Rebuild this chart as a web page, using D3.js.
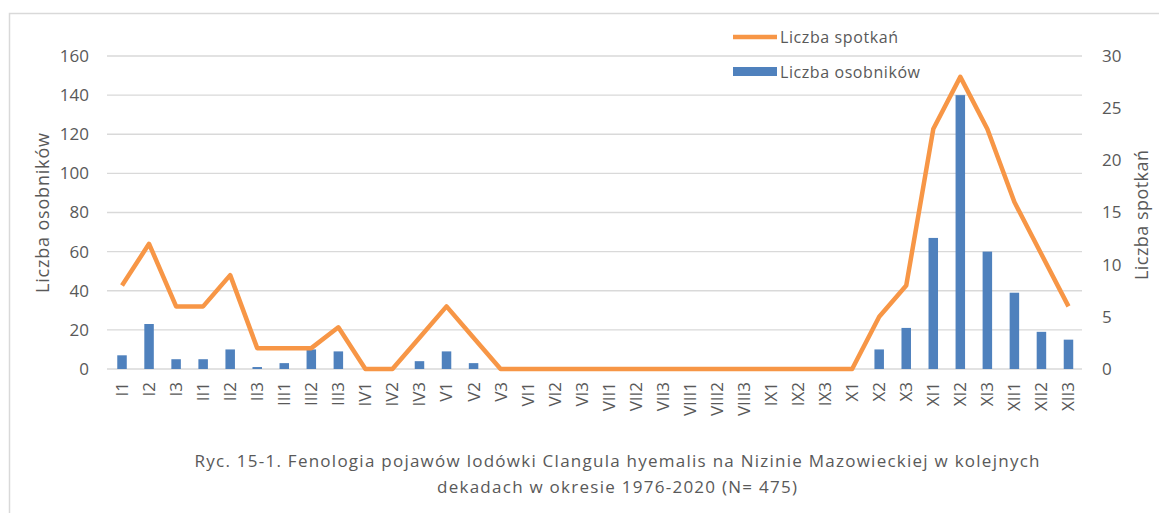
<!DOCTYPE html>
<html>
<head>
<meta charset="utf-8">
<script src="https://cdn.jsdelivr.net/npm/d3@7"></script>
<style>
body { margin: 0; background: #fff; }
svg text { font-family: "Open Sans", sans-serif; fill: #595959; }
</style>
</head>
<body>
<div id="chart"></div>
<script>
var w = 1159;
var h = 513;

// dekady miesiecy
var categories = ["I1","I2","I3","II1","II2","II3","III1","III2","III3","IV1","IV2","IV3",
                  "V1","V2","V3","VI1","VI2","VI3","VII1","VII2","VII3","VIII1","VIII2","VIII3",
                  "IX1","IX2","IX3","X1","X2","X3","XI1","XI2","XI3","XII1","XII2","XII3"];
var osobnicy = [7,23,5,5,10,1,3,10,9,0,0,4,9,3,0,0,0,0,0,0,0,0,0,0,0,0,0,0,10,21,67,140,60,39,19,15];
var spotkania = [8,12,6,6,9,2,2,2,4,0,0,3,6,3,0,0,0,0,0,0,0,0,0,0,0,0,0,0,5,8,23,28,23,16,11,6];
var leftTicks = [0,20,40,60,80,100,120,140,160];
var rightTicks = [0,5,10,15,20,25,30];

var svg = d3.select("#chart")
            .append("svg")
            .attr("width", w)
            .attr("height", h);

// ramka wykresu
svg.append("rect")
   .attr("x", 9.5).attr("y", 13.5)
   .attr("width", w + 20).attr("height", h + 20)
   .attr("fill", "none").attr("stroke", "#d9d9d9").attr("stroke-width", 1.5);

var xScale = d3.scaleBand()
              .domain(categories)
              .range([108.5, 1082]);

var yLeft = d3.scaleLinear().domain([0, 160]).range([369, 56]);
var yRight = d3.scaleLinear().domain([0, 30]).range([369, 56]);

// siatka
svg.selectAll("line.grid")
   .data(leftTicks)
   .enter()
   .append("line")
   .attr("class", "grid")
   .attr("x1", 107).attr("x2", 1082)
   .attr("y1", function(d) { return yLeft(d); })
   .attr("y2", function(d) { return yLeft(d); })
   .attr("stroke", "#d9d9d9").attr("stroke-width", 1.3);

// osie
var leftAxis = svg.append("g")
   .attr("transform", "translate(89,0)")
   .call(d3.axisLeft(yLeft).tickValues(leftTicks).tickSize(0).tickPadding(0));
var rightAxis = svg.append("g")
   .attr("transform", "translate(1100,0)")
   .call(d3.axisRight(yRight).tickValues(rightTicks).tickSize(0).tickPadding(2));
[leftAxis, rightAxis].forEach(function(a) {
  a.select(".domain").remove();
  a.selectAll("text").attr("font-size", 17).attr("font-family", null).attr("fill", "#595959");
});

var xAxis = svg.append("g")
   .attr("transform", "translate(0,369)")
   .call(d3.axisBottom(xScale).tickSize(0));
xAxis.select(".domain").remove();
xAxis.selectAll("text")
   .attr("font-size", 17).attr("font-family", null).attr("fill", "#595959")
   .attr("transform", "rotate(-90)")
   .attr("text-anchor", "end")
   .attr("x", -13).attr("y", 0).attr("dy", "0.35em");

// slupki
var barW = 9.5;
svg.selectAll("rect.bar")
   .data(osobnicy)
   .enter()
   .append("rect")
   .attr("class", "bar")
   .attr("x", function(d, i) { return xScale(categories[i]) + xScale.bandwidth() / 2 - barW / 2; })
   .attr("y", function(d) { return yLeft(d); })
   .attr("width", barW)
   .attr("height", function(d) { return yLeft(0) - yLeft(d); })
   .attr("fill", "#4f81bd");

// linia
var line = d3.line()
   .x(function(d, i) { return xScale(categories[i]) + xScale.bandwidth() / 2; })
   .y(function(d) { return yRight(d); });
svg.append("path")
   .datum(spotkania)
   .attr("d", line)
   .attr("fill", "none")
   .attr("stroke", "#f79646")
   .attr("stroke-width", 4.5)
   .attr("stroke-linejoin", "round");

// tytuly osi
svg.append("text")
   .attr("transform", "translate(49,213) rotate(-90)")
   .attr("text-anchor", "middle")
   .attr("font-size", 18)
   .attr("textLength", 160).attr("lengthAdjust", "spacing")
   .text("Liczba osobników");
svg.append("text")
   .attr("transform", "translate(1148,215) rotate(-90)")
   .attr("text-anchor", "middle")
   .attr("font-size", 18)
   .attr("textLength", 130).attr("lengthAdjust", "spacing")
   .text("Liczba spotkań");

// legenda
svg.append("line")
   .attr("x1", 733).attr("x2", 777).attr("y1", 37).attr("y2", 37)
   .attr("stroke", "#f79646").attr("stroke-width", 4.5);
svg.append("text").attr("x", 780).attr("y", 43).attr("font-size", 16)
   .attr("textLength", 118).attr("lengthAdjust", "spacing").text("Liczba spotkań");
svg.append("rect")
   .attr("x", 733).attr("y", 67).attr("width", 44).attr("height", 9)
   .attr("fill", "#4f81bd");
svg.append("text").attr("x", 780).attr("y", 78).attr("font-size", 16)
   .attr("textLength", 140).attr("lengthAdjust", "spacing").text("Liczba osobników");

// podpis
svg.append("text")
   .attr("x", 617).attr("y", 467)
   .attr("text-anchor", "middle").attr("font-size", 17)
   .attr("textLength", 845).attr("lengthAdjust", "spacing")
   .text("Ryc. 15-1. Fenologia pojawów lodówki Clangula hyemalis na Nizinie Mazowieckiej w kolejnych");
svg.append("text")
   .attr("x", 617).attr("y", 493)
   .attr("text-anchor", "middle").attr("font-size", 17)
   .attr("textLength", 360).attr("lengthAdjust", "spacing")
   .text("dekadach w okresie 1976-2020 (N= 475)");
</script>
</body>
</html>
